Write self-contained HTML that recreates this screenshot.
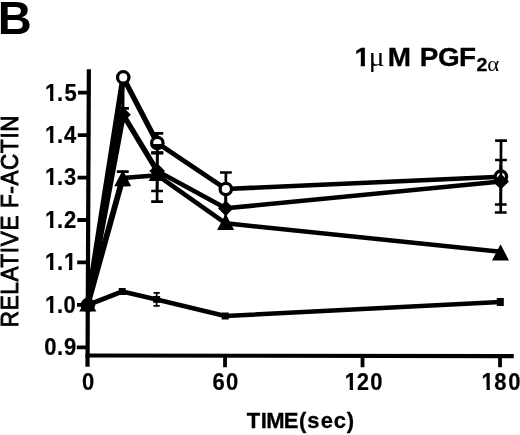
<!DOCTYPE html>
<html><head><meta charset="utf-8"><title>B</title>
<style>
html,body{margin:0;padding:0;background:#fff;overflow:hidden}
svg{display:block}
text{font-family:"Liberation Sans",sans-serif;fill:#000}
.b{font-weight:bold}
.sym{font-family:"Liberation Serif",serif;font-weight:normal}
</style></head>
<body>
<svg width="520" height="435" viewBox="0 0 520 435">
<rect width="520" height="435" fill="#fff"/>

<g class="b" font-size="22" stroke="#000" stroke-width="0.2" transform="scale(1,1.07)">
<text x="45.1 56.9 64.4" y="94.02">1.5</text>
<text x="45.1 56.9 64.0" y="133.67">1.4</text>
<text x="45.1 56.9 64.0" y="173.33">1.3</text>
<text x="45.1 56.9 64.0" y="212.98">1.2</text>
<text x="45.1 56.9 64.0" y="252.64">1.1</text>
<text x="45.1 56.9 63.6" y="292.29">1.0</text>
<text x="44.2 56.9 64.0" y="331.94">0.9</text>
<text x="82" y="364.39">0</text>
<text x="212.5 226.0" y="364.39">60</text>
<text x="344.7 356.8 370.3" y="364.39">120</text>
<text x="481.6 494.2 508.3" y="364.39">180</text>
</g>
<text class="b" font-size="25.6" stroke="#000" stroke-width="0.3" transform="scale(1.09,1)" x="325.14 338.35 355.69 377.98 385.05 401.88 421.01 437.06 446.97" y="66">1<tspan class="sym" font-size="27" stroke="none">μ</tspan>M PGF<tspan font-size="18" dy="5">2<tspan class="sym" font-size="21" stroke="none" dy="0.3">α</tspan></tspan></text>
<g fill="#fff" stroke="none">
<rect x="45.29" y="97.20" width="4.78" height="5.80"/><rect x="53.42" y="97.20" width="4.50" height="5.80"/>
<rect x="45.29" y="139.63" width="4.78" height="5.80"/><rect x="53.42" y="139.63" width="4.50" height="5.80"/>
<rect x="45.29" y="182.06" width="4.78" height="5.80"/><rect x="53.42" y="182.06" width="4.50" height="5.80"/>
<rect x="45.29" y="224.49" width="4.78" height="5.80"/><rect x="53.42" y="224.49" width="4.50" height="5.80"/>
<rect x="45.29" y="266.92" width="4.78" height="5.80"/><rect x="53.42" y="266.92" width="4.50" height="5.80"/>
<rect x="64.19" y="266.92" width="4.78" height="5.80"/><rect x="72.32" y="266.92" width="4.50" height="5.80"/>
<rect x="45.29" y="309.35" width="4.78" height="5.80"/><rect x="53.42" y="309.35" width="4.50" height="5.80"/>
<rect x="344.89" y="386.50" width="4.78" height="5.80"/><rect x="353.02" y="386.50" width="4.50" height="5.80"/>
<rect x="481.79" y="386.50" width="4.78" height="5.80"/><rect x="489.92" y="386.50" width="4.50" height="5.80"/>
<rect x="354.96" y="62.39" width="5.77" height="6.01"/><rect x="364.93" y="62.39" width="5.17" height="6.01"/>
</g>
<text class="b" font-size="22.7" stroke="#000" stroke-width="0.3" transform="scale(0.97,1)" x="254.32 268.75 274.39 292.55 308.17 316.69 330.59 344.09 357.47" y="427.8">TIME(sec)</text>
<text font-size="24.8" letter-spacing="0.75" transform="translate(18.1,327.2) rotate(-90) scale(0.905,1)" stroke="#000" stroke-width="0.95">RELATIVE F-ACTIN</text>
<text class="b" font-size="47" x="-2.3" y="33.7">B</text>
<g transform="matrix(1,0,-0.0045,1,1.37,0)">
<g stroke="#000" stroke-width="4.2" fill="none">
<line x1="87.8" y1="69.3" x2="87.8" y2="366.8"/>
<line x1="85.7" y1="355.5" x2="514" y2="356.1"/>
</g>
<g stroke="#000" stroke-width="3.8" fill="none">
<line x1="77.0" y1="92.7" x2="88" y2="92.7"/>
<line x1="77.0" y1="135.1" x2="88" y2="135.1"/>
<line x1="77.0" y1="177.6" x2="88" y2="177.6"/>
<line x1="77.0" y1="220.0" x2="88" y2="220.0"/>
<line x1="77.0" y1="262.4" x2="88" y2="262.4"/>
<line x1="77.0" y1="304.9" x2="88" y2="304.9"/>
<line x1="77.0" y1="347.3" x2="88" y2="347.3"/>
<line x1="225.3" y1="356" x2="225.3" y2="367.2"/>
<line x1="362.8" y1="356" x2="362.8" y2="367.2"/>
<line x1="500.3" y1="356" x2="500.3" y2="367.2"/>
</g>
<g stroke="#000" stroke-width="2.7" fill="none">
<line x1="122.2" y1="108.3" x2="122.2" y2="121"/><line x1="116.3" y1="108.3" x2="128.1" y2="108.3"/><line x1="116.3" y1="121" x2="128.1" y2="121"/>
<line x1="122.2" y1="82" x2="122.2" y2="110"/>
<line x1="122.2" y1="171.6" x2="122.2" y2="185"/><line x1="116.3" y1="171.6" x2="128.1" y2="171.6"/><line x1="116.3" y1="185" x2="128.1" y2="185"/>
<line x1="156.6" y1="133.4" x2="156.6" y2="152.8"/><line x1="150.7" y1="133.4" x2="162.5" y2="133.4"/><line x1="150.7" y1="152.8" x2="162.5" y2="152.8"/>
<line x1="156.6" y1="152.8" x2="156.6" y2="191"/><line x1="150.7" y1="152.8" x2="162.5" y2="152.8"/><line x1="150.7" y1="191" x2="162.5" y2="191"/>
<line x1="156.6" y1="152.8" x2="156.6" y2="201.6"/><line x1="150.7" y1="152.8" x2="162.5" y2="152.8"/><line x1="150.7" y1="201.6" x2="162.5" y2="201.6"/>
<line x1="225.3" y1="172.5" x2="225.3" y2="206"/><line x1="219.4" y1="172.5" x2="231.2" y2="172.5"/>
<line x1="225.3" y1="190" x2="225.3" y2="222"/>
<line x1="500.3" y1="140.7" x2="500.3" y2="212.5"/><line x1="494.4" y1="140.7" x2="506.2" y2="140.7"/><line x1="494.4" y1="212.5" x2="506.2" y2="212.5"/>
<line x1="500.3" y1="160" x2="500.3" y2="204.5"/><line x1="494.4" y1="160" x2="506.2" y2="160"/><line x1="494.4" y1="204.5" x2="506.2" y2="204.5"/>
</g>
<g stroke="#000" stroke-width="1.7" fill="none">
<line x1="156.6" y1="292.9" x2="156.6" y2="305.9"/><line x1="153.5" y1="292.9" x2="159.7" y2="292.9"/><line x1="153.5" y1="305.9" x2="159.7" y2="305.9"/>
</g>
<g stroke="#000" fill="none" stroke-linecap="round">
<line x1="87.5" y1="305" x2="122.2" y2="77.4" stroke-width="5.8"/>
<line x1="122.2" y1="77.4" x2="156.6" y2="143" stroke-width="5.3"/>
<line x1="156.6" y1="143" x2="225.3" y2="189" stroke-width="4.6"/>
<line x1="225.3" y1="189" x2="500.3" y2="176.7" stroke-width="4.6"/>
<line x1="87.5" y1="305" x2="122.2" y2="114.7" stroke-width="5.8"/>
<line x1="122.2" y1="114.7" x2="156.6" y2="171" stroke-width="5.3"/>
<line x1="156.6" y1="171" x2="225.3" y2="208.3" stroke-width="4.6"/>
<line x1="225.3" y1="208.3" x2="500.3" y2="181.5" stroke-width="4.6"/>
<line x1="87.5" y1="305" x2="122.2" y2="178" stroke-width="5.8"/>
<line x1="122.2" y1="178" x2="156.6" y2="175.2" stroke-width="4.6"/>
<line x1="156.6" y1="175.2" x2="225.3" y2="223.3" stroke-width="4.6"/>
<line x1="225.3" y1="223.3" x2="500.3" y2="251.8" stroke-width="4.6"/>
<line x1="87.8" y1="305" x2="122.2" y2="291.5" stroke-width="4.6"/>
<line x1="122.2" y1="291.5" x2="156.6" y2="299.4" stroke-width="4.6"/>
<line x1="156.6" y1="299.4" x2="225.3" y2="316" stroke-width="4.6"/>
<line x1="225.3" y1="316" x2="500.3" y2="302" stroke-width="4.6"/>
</g>
<g fill="#000" stroke="none">
<rect x="118.7" y="288.1" width="7" height="6.8"/>
<rect x="153.1" y="296.0" width="7" height="6.8"/>
<rect x="221.8" y="312.6" width="7" height="6.8"/>
<rect x="496.8" y="297.9" width="7" height="8.2"/>
<polygon points="87.8,295.2 79.3,311.4 96.3,311.4"/>
<polygon points="122.2,170.0 113.7,186.2 130.7,186.2"/>
<polygon points="156.6,164.8 148.1,181.0 165.1,181.0"/>
<polygon points="225.3,213.7 216.8,229.9 233.8,229.9"/>
<polygon points="500.3,244.3 491.8,260.5 508.8,260.5"/>
<polygon points="87.8,297.2 95.6,305.0 87.8,312.8 80.0,305.0"/>
<polygon points="122.2,106.9 130.0,114.7 122.2,122.5 114.4,114.7"/>
<polygon points="156.6,163.2 164.4,171.0 156.6,178.8 148.8,171.0"/>
<polygon points="225.3,200.5 233.1,208.3 225.3,216.1 217.5,208.3"/>
<polygon points="500.3,173.7 508.1,181.5 500.3,189.3 492.5,181.5"/>
</g>
<g fill="#fff" stroke="#000" stroke-width="3.3">
<circle cx="122.2" cy="77.4" r="5.7"/>
<circle cx="156.6" cy="143" r="5.7"/>
<circle cx="225.3" cy="189" r="5.7"/>
<circle cx="500.3" cy="176.7" r="5.7"/>
</g>
<circle cx="87.8" cy="305" r="7.2" fill="#000"/>
<line x1="151.4" y1="145.7" x2="161.8" y2="145.7" stroke="#000" stroke-width="3.4"/>
<polygon points="500.3,173.7 508.3,181.5 500.3,189.3 492.3,181.5" fill="#000"/>
<line x1="500.3" y1="165" x2="500.3" y2="180" stroke="#000" stroke-width="2.7"/>
</g>
</svg>
</body></html>
